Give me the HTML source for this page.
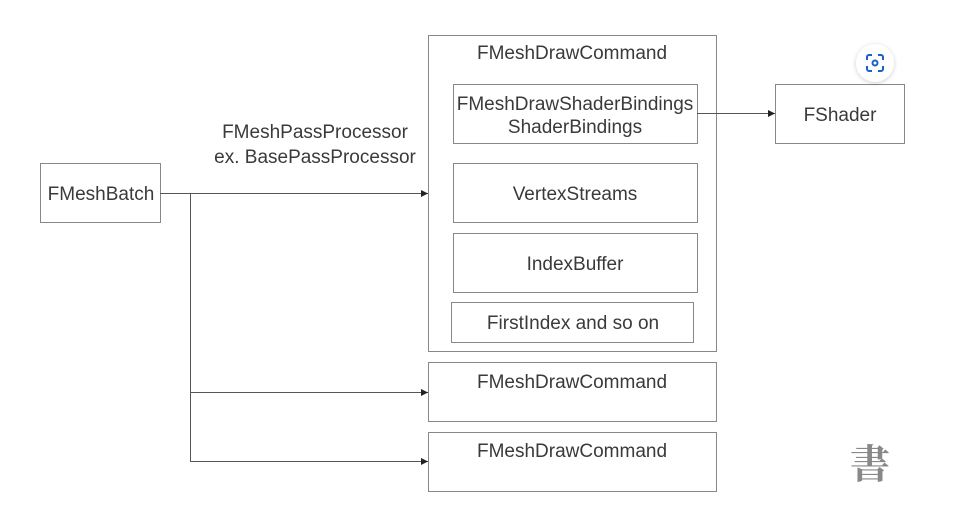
<!DOCTYPE html>
<html><head><meta charset="utf-8"><style>
html,body{margin:0;padding:0;background:#fff;}
svg{display:block;}
text{font-family:"Liberation Sans",Arial,sans-serif;font-size:19px;fill:#3a3a3a;}
</style></head><body>
<svg width="965" height="508" viewBox="0 0 965 508" xmlns="http://www.w3.org/2000/svg">
<defs>
<marker id="a" markerWidth="8" markerHeight="8" refX="7" refY="4" orient="auto" markerUnits="userSpaceOnUse">
<path d="M0,0.5 L7,4 L0,7.5 Z" fill="#222"/>
</marker>
<filter id="sh" x="-50%" y="-50%" width="200%" height="200%"><feDropShadow dx="0" dy="1" stdDeviation="2" flood-color="#000" flood-opacity="0.2"/></filter>
</defs>
<g fill="none" stroke="#888" stroke-width="1">
<rect x="40.5" y="163.5" width="120" height="59"/>
<rect x="428.5" y="35.5" width="288" height="316"/>
<rect x="453.5" y="84.5" width="244" height="59"/>
<rect x="453.5" y="163.5" width="244" height="59"/>
<rect x="453.5" y="233.5" width="244" height="59"/>
<rect x="451.5" y="302.5" width="242" height="40"/>
<rect x="428.5" y="362.5" width="288" height="59"/>
<rect x="428.5" y="432.5" width="288" height="59"/>
<rect x="775.5" y="84.5" width="129" height="59"/>
</g>
<g stroke="#555" stroke-width="1" fill="none">
<line x1="160" y1="193.5" x2="428" y2="193.5" marker-end="url(#a)"/>
<line x1="190.5" y1="193" x2="190.5" y2="461.5"/>
<line x1="190" y1="392.5" x2="428" y2="392.5" marker-end="url(#a)"/>
<line x1="190" y1="461.5" x2="428" y2="461.5" marker-end="url(#a)"/>
<line x1="697" y1="113.5" x2="775" y2="113.5" marker-end="url(#a)"/>
</g>
<g text-anchor="middle">
<text x="101" y="200">FMeshBatch</text>
<text x="572" y="59">FMeshDrawCommand</text>
<text x="575" y="110">FMeshDrawShaderBindings</text>
<text x="575" y="133">ShaderBindings</text>
<text x="575" y="200">VertexStreams</text>
<text x="575" y="270">IndexBuffer</text>
<text x="573" y="329">FirstIndex and so on</text>
<text x="572" y="388">FMeshDrawCommand</text>
<text x="572" y="457">FMeshDrawCommand</text>
<text x="840" y="121">FShader</text>
<text x="315" y="138">FMeshPassProcessor</text>
<text x="315" y="163">ex. BasePassProcessor</text>
</g>
<circle cx="875" cy="63" r="19" fill="#fff" filter="url(#sh)"/>
<g stroke="#1a62c9" stroke-width="2" fill="none">
<path d="M867,60 v-3 a2,2 0 0 1 2,-2 h3 M878,55 h3 a2,2 0 0 1 2,2 v3 M883,66 v3 a2,2 0 0 1 -2,2 h-3 M872,71 h-3 a2,2 0 0 1 -2,-2 v-3"/>
<circle cx="875" cy="63" r="2.5"/>
</g>
<text x="870" y="478" text-anchor="middle" style="font-family:'Noto Serif CJK SC',serif;font-size:40px;fill:#888;font-weight:bold">書</text>
</svg>
</body></html>
